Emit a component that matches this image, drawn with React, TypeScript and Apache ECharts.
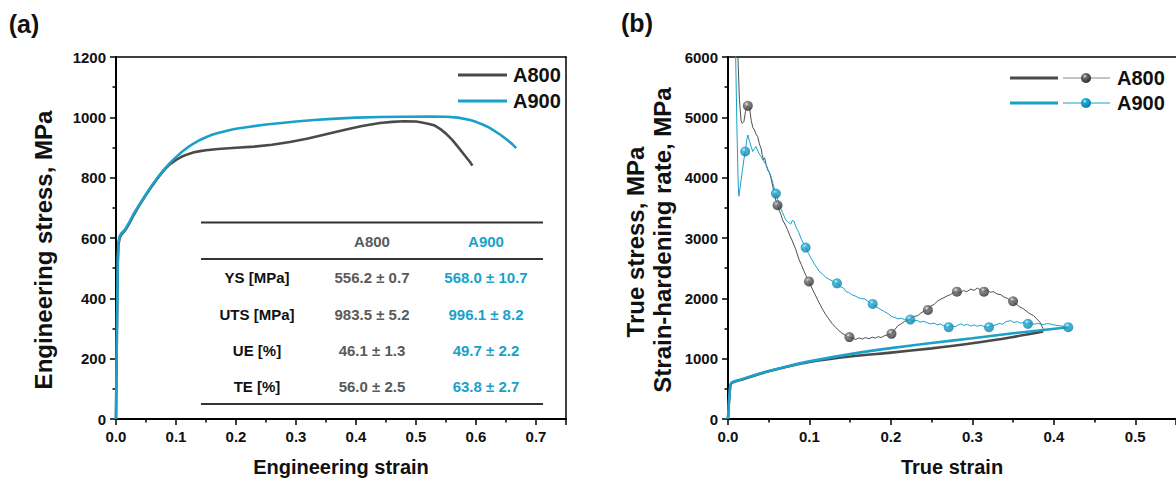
import React, { useEffect, useRef } from 'react';
import * as echarts from 'echarts';

// ---------- data ----------
const seriesNames = ['A800', 'A900'];

// (a) engineering stress-strain [strain, MPa]
const engA800: number[][] = [
  [0, 0], [0.001, 200], [0.002, 380], [0.003, 520], [0.004, 575], [0.006, 600], [0.009, 612],
  [0.015, 625], [0.022, 648], [0.03, 678], [0.04, 712], [0.05, 743], [0.06, 772], [0.07, 800],
  [0.08, 825], [0.09, 845], [0.10, 859], [0.11, 870], [0.12, 878], [0.13, 884], [0.14, 888],
  [0.15, 891], [0.17, 895], [0.2, 899], [0.23, 903], [0.26, 909], [0.29, 918], [0.32, 930],
  [0.35, 944], [0.38, 958], [0.41, 971], [0.44, 981], [0.46, 985], [0.48, 987], [0.50, 986],
  [0.51, 983], [0.52, 979], [0.53, 974], [0.54, 962], [0.55, 946], [0.56, 926], [0.57, 902],
  [0.58, 877], [0.59, 852], [0.594, 840],
];
const engA900: number[][] = [
  [0, 0], [0.001, 200], [0.002, 380], [0.003, 530], [0.004, 585], [0.006, 605], [0.009, 616],
  [0.015, 628], [0.022, 652], [0.03, 682], [0.04, 714], [0.05, 745], [0.06, 775], [0.07, 802],
  [0.08, 827], [0.09, 849], [0.10, 868], [0.11, 886], [0.12, 901], [0.13, 914], [0.14, 925],
  [0.15, 934], [0.16, 942], [0.17, 948], [0.18, 953], [0.19, 958], [0.2, 962], [0.22, 968],
  [0.25, 976], [0.28, 982], [0.3, 986], [0.33, 991], [0.36, 995], [0.4, 999], [0.44, 1001],
  [0.48, 1002], [0.52, 1003], [0.55, 1002], [0.57, 999], [0.59, 991], [0.60, 985], [0.61, 977],
  [0.62, 968], [0.63, 956], [0.64, 943], [0.65, 928], [0.66, 912], [0.667, 898],
];

// (b) true stress [true strain, MPa]
const trueA800: number[][] = [
  [0, 0], [0.001, 250], [0.002, 430], [0.003, 560], [0.005, 600], [0.008, 618], [0.015, 645],
  [0.03, 710], [0.05, 790], [0.075, 875], [0.1, 945], [0.15, 1035], [0.2, 1100], [0.25, 1170],
  [0.3, 1255], [0.35, 1360], [0.387, 1450],
];
const trueA900: number[][] = [
  [0, 0], [0.001, 250], [0.002, 430], [0.003, 570], [0.005, 610], [0.008, 625], [0.015, 650],
  [0.03, 715], [0.05, 795], [0.075, 880], [0.1, 955], [0.15, 1075], [0.2, 1175], [0.25, 1260],
  [0.3, 1338], [0.35, 1420], [0.418, 1522],
];

// (b) strain-hardening rate [true strain, MPa]
const hardA800: number[][] = [
  [0.0100, 7000], [0.0122, 6000], [0.0140, 5300], [0.0160, 4950], [0.0175, 4900], [0.0195, 4930],
  [0.0215, 5100], [0.0243, 5190], [0.0265, 5150], [0.0285, 4950], [0.0305, 4830], [0.0325, 4790],
  [0.0345, 4720], [0.0365, 4680], [0.0385, 4560], [0.0405, 4490], [0.0420, 4380], [0.0435, 4300],
  [0.0450, 4330], [0.0467, 4220], [0.0490, 4120], [0.0510, 4080], [0.0528, 3990], [0.0550, 3850],
  [0.0570, 3720], [0.0590, 3610], [0.0608, 3543], [0.0630, 3450], [0.0650, 3390], [0.0670, 3300],
  [0.0690, 3250], [0.0710, 3200], [0.0730, 3140], [0.0760, 3040], [0.0790, 2950], [0.0832, 2810],
  [0.0870, 2650], [0.0900, 2560], [0.0930, 2460], [0.0960, 2370], [0.0994, 2281], [0.1030, 2170],
  [0.1070, 2060], [0.1116, 1935], [0.1160, 1820], [0.1200, 1730], [0.1237, 1660], [0.1280, 1580],
  [0.1320, 1520], [0.1360, 1467], [0.1400, 1420], [0.1450, 1380], [0.1490, 1358], [0.1530, 1340],
  [0.1570, 1320], [0.1610, 1345], [0.1650, 1325], [0.1690, 1350], [0.1730, 1330], [0.1770, 1355],
  [0.1810, 1340], [0.1845, 1365], [0.1880, 1350], [0.1920, 1380], [0.1960, 1395], [0.2007, 1412],
  [0.2040, 1470], [0.2088, 1549], [0.2130, 1580], [0.2170, 1620], [0.2210, 1631], [0.2250, 1680],
  [0.2290, 1700], [0.2330, 1714], [0.2370, 1760], [0.2410, 1790], [0.2454, 1808], [0.2490, 1870],
  [0.2530, 1900], [0.2570, 1950], [0.2616, 1989], [0.2650, 2010], [0.2690, 2040], [0.2730, 2060],
  [0.2770, 2095], [0.2810, 2110], [0.2850, 2090], [0.2890, 2130], [0.2930, 2110], [0.2980, 2154],
  [0.3020, 2130], [0.3060, 2170], [0.3100, 2140], [0.3143, 2110], [0.3180, 2140], [0.3220, 2100],
  [0.3260, 2110], [0.3305, 2071], [0.3350, 2060], [0.3390, 2020], [0.3430, 2000], [0.3470, 1960],
  [0.3500, 1951], [0.3540, 1900], [0.3580, 1860], [0.3630, 1824], [0.3670, 1780], [0.3710, 1740],
  [0.3750, 1714], [0.3790, 1660], [0.3830, 1605], [0.3870, 1495],
];
const hardA900: number[][] = [
  [0.0075, 7000], [0.0094, 6000], [0.0110, 4800], [0.0125, 3900], [0.0134, 3692], [0.0150, 3850],
  [0.0175, 4100], [0.0195, 4300], [0.0211, 4433], [0.0228, 4600], [0.0243, 4708], [0.0265, 4600],
  [0.0284, 4516], [0.0304, 4433], [0.0325, 4480], [0.0345, 4516], [0.0370, 4430], [0.0390, 4380],
  [0.0406, 4351], [0.0430, 4290], [0.0450, 4250], [0.0467, 4214], [0.0490, 4140], [0.0510, 4080],
  [0.0528, 4021], [0.0550, 3910], [0.0570, 3820], [0.0588, 3736], [0.0610, 3640], [0.0630, 3560],
  [0.0650, 3480], [0.0670, 3418], [0.0690, 3360], [0.0710, 3300], [0.0730, 3270], [0.0750, 3253],
  [0.0770, 3230], [0.0790, 3290], [0.0811, 3280], [0.0830, 3200], [0.0850, 3140], [0.0870, 3088],
  [0.0900, 2980], [0.0930, 2900], [0.0953, 2841], [0.0990, 2740], [0.1030, 2640], [0.1075, 2538],
  [0.1120, 2450], [0.1160, 2400], [0.1200, 2350], [0.1237, 2319], [0.1290, 2280], [0.1338, 2248],
  [0.1380, 2190], [0.1420, 2170], [0.1450, 2110], [0.1480, 2100], [0.1520, 2060], [0.1560, 2040],
  [0.1600, 2010], [0.1640, 1995], [0.1680, 1989], [0.1720, 1950], [0.1776, 1907], [0.1810, 1870],
  [0.1845, 1840], [0.1880, 1810], [0.1920, 1780], [0.1970, 1742], [0.2010, 1700], [0.2050, 1680],
  [0.2090, 1660], [0.2130, 1670], [0.2170, 1645], [0.2200, 1660], [0.2238, 1648], [0.2280, 1620],
  [0.2320, 1635], [0.2360, 1605], [0.2400, 1620], [0.2450, 1593], [0.2490, 1575], [0.2530, 1590],
  [0.2570, 1560], [0.2610, 1575], [0.2650, 1545], [0.2709, 1522], [0.2750, 1545], [0.2790, 1530],
  [0.2830, 1560], [0.2860, 1577], [0.2900, 1550], [0.2940, 1570], [0.2980, 1540], [0.3020, 1560],
  [0.3060, 1535], [0.3100, 1555], [0.3150, 1530], [0.3204, 1522], [0.3250, 1550], [0.3290, 1560],
  [0.3330, 1585], [0.3370, 1570], [0.3410, 1610], [0.3470, 1631], [0.3510, 1600], [0.3550, 1615],
  [0.3590, 1590], [0.3630, 1600], [0.3682, 1577], [0.3720, 1590], [0.3760, 1570], [0.3800, 1585],
  [0.3830, 1577], [0.3870, 1565], [0.3910, 1580], [0.3950, 1577], [0.4000, 1560], [0.4050, 1550],
  [0.4100, 1540], [0.4177, 1522],
];

// (b) sphere markers on the hardening curves
const markA800: number[][] = [
  [0.0243, 5191], [0.0608, 3543], [0.0994, 2281], [0.149, 1358], [0.2007, 1412],
  [0.2454, 1808], [0.281, 2110], [0.3143, 2110], [0.35, 1951],
];
const markA900: number[][] = [
  [0.0211, 4433], [0.0588, 3736], [0.0953, 2841], [0.1338, 2248], [0.1776, 1907],
  [0.2238, 1648], [0.2709, 1522], [0.3204, 1522], [0.3682, 1577], [0.4177, 1522],
];

// (a) inset table
const tableRows = ['YS [MPa]', 'UTS [MPa]', 'UE [%]', 'TE [%]'];
const tableA800 = ['556.2 ± 0.7', '983.5 ± 5.2', '46.1 ± 1.3', '56.0 ± 2.5'];
const tableA900 = ['568.0 ± 10.7', '996.1 ± 8.2', '49.7 ± 2.2', '63.8 ± 2.7'];

// ---------- styles ----------
const GREY = '#4a4a4a';
const GREY_THIN = '#4f4f4f';
const BLUE = '#1aa1c9';
const FONT = '"Liberation Sans", Arial, Helvetica, sans-serif';

const sphere = (light: string, mid: string, dark: string) =>
  new echarts.graphic.RadialGradient(0.38, 0.32, 0.7, [
    { offset: 0, color: light },
    { offset: 0.3, color: mid },
    { offset: 1, color: dark },
  ]);

function buildOption() {
  const tickLabel = { fontSize: 15, fontWeight: 'bold', color: '#111', fontFamily: FONT, margin: 10 };
  const axisLine = { show: true, lineStyle: { color: '#000', width: 2 } };
  const axisTick = { show: true, length: 6, lineStyle: { color: '#000', width: 1.5 } };
  const minorTick = { show: true, splitNumber: 2, length: 3.5, lineStyle: { color: '#000', width: 1.5 } };
  const nameStyle = { fontSize: 20, fontWeight: 'bold', color: '#111', fontFamily: FONT };
  const frame = (gridIndex: number, position: string) => ({
    type: 'value', gridIndex, position,
    axisLine: { show: true, onZero: false, lineStyle: { color: '#000', width: 1.5 } },
    axisTick: { show: false }, axisLabel: { show: false }, splitLine: { show: false },
    min: 0, max: 1,
  });

  const graphic: any[] = [];
  const txt = (x: number, y: number, text: string, size: number, color = '#111', align = 'center', rotation = 0) => ({
    type: 'text', x, y, rotation, silent: true,
    style: { text, fill: color, fontSize: size, fontWeight: 'bold', fontFamily: FONT, align, verticalAlign: 'middle' },
  });
  // panel labels
  graphic.push(txt(24, 24, '(a)', 25));
  graphic.push(txt(637, 23, '(b)', 25));
  // y titles
  graphic.push(txt(43, 250, 'Engineering stress, MPa', 24, '#111', 'center', Math.PI / 2));
  graphic.push(txt(635, 242, 'True stress, MPa', 24, '#111', 'center', Math.PI / 2));
  graphic.push(txt(662, 240, 'Strain-hardening rate, MPa', 24, '#111', 'center', Math.PI / 2));

  const sphA800 = () => sphere('#e0e0e0', '#6a6a6a', '#2a2a2a');
  const sphA900 = () => sphere('#c4f1ff', '#1ea6d0', '#0a7aa0');

  // legend (a)
  const legA = [75, 101];
  [GREY, BLUE].forEach((c, i) => {
    graphic.push({ type: 'line', silent: true, shape: { x1: 458, y1: legA[i], x2: 507, y2: legA[i] }, style: { stroke: c, lineWidth: 3 } });
    graphic.push(txt(513, legA[i], seriesNames[i], 20, '#111', 'left'));
  });
  // legend (b)
  const legB = [78, 103];
  const legSph = [sphA800(), sphA900()];
  const legThin = ['#888888', BLUE];
  [GREY, BLUE].forEach((c, i) => {
    graphic.push({ type: 'line', silent: true, shape: { x1: 1010, y1: legB[i], x2: 1058, y2: legB[i] }, style: { stroke: c, lineWidth: 3 } });
    graphic.push({ type: 'line', silent: true, shape: { x1: 1063, y1: legB[i], x2: 1110, y2: legB[i] }, style: { stroke: legThin[i], lineWidth: 1 } });
    graphic.push({ type: 'circle', silent: true, shape: { cx: 1086, cy: legB[i], r: 5 }, style: { fill: legSph[i] } });
    graphic.push(txt(1117, legB[i], seriesNames[i], 20, '#111', 'left'));
  });

  // inset table (a)
  [222.5, 259, 404].forEach((y) => {
    graphic.push({ type: 'line', silent: true, shape: { x1: 201, y1: y, x2: 543, y2: y }, style: { stroke: '#333', lineWidth: 1.8 } });
  });
  graphic.push(txt(372, 241, seriesNames[0], 15, '#5a5a5a'));
  graphic.push(txt(486, 241, seriesNames[1], 15, BLUE));
  const rowY = [277.5, 314, 350, 386];
  tableRows.forEach((r, i) => {
    graphic.push(txt(257, rowY[i], r, 15, '#111'));
    graphic.push(txt(372, rowY[i], tableA800[i], 15, '#5a5a5a'));
    graphic.push(txt(486, rowY[i], tableA900[i], 15, BLUE));
  });

  const fmt1 = (v: number) => v.toFixed(1);
  const fmt0 = (v: number) => String(Math.round(v));

  return {
    animation: false,
    backgroundColor: '#ffffff',
    grid: [
      { left: 116, top: 57, width: 450, height: 364 },
      { left: 728, top: 57, width: 452, height: 364 },
    ],
    xAxis: [
      {
        type: 'value', gridIndex: 0, min: 0, max: 0.75, interval: 0.1,
        name: 'Engineering strain', nameLocation: 'middle', nameGap: 38, nameTextStyle: nameStyle,
        axisLine, axisTick, minorTick, splitLine: { show: false }, minorSplitLine: { show: false },
        axisLabel: { ...tickLabel, formatter: fmt1, showMaxLabel: false },
      },
      {
        type: 'value', gridIndex: 1, min: 0, max: 0.55, interval: 0.1,
        name: 'True strain', nameLocation: 'middle', nameGap: 38, nameTextStyle: nameStyle,
        axisLine, axisTick, minorTick, splitLine: { show: false }, minorSplitLine: { show: false },
        axisLabel: { ...tickLabel, formatter: fmt1, showMaxLabel: false },
      },
      frame(0, 'top'),
      frame(1, 'top'),
    ],
    yAxis: [
      {
        type: 'value', gridIndex: 0, min: 0, max: 1200, interval: 200,
        axisLine, axisTick, minorTick, splitLine: { show: false }, minorSplitLine: { show: false },
        axisLabel: { ...tickLabel, formatter: fmt0 },
      },
      {
        type: 'value', gridIndex: 1, min: 0, max: 6000, interval: 1000,
        axisLine, axisTick, minorTick, splitLine: { show: false }, minorSplitLine: { show: false },
        axisLabel: { ...tickLabel, formatter: fmt0 },
      },
      frame(0, 'right'),
    ],
    graphic,
    series: [
      {
        name: 'A800', type: 'line', xAxisIndex: 0, yAxisIndex: 0, data: engA800, showSymbol: false, symbol: 'none',
        smooth: false, lineStyle: { color: GREY, width: 2.6, join: 'round' }, z: 3,
      },
      {
        name: 'A900', type: 'line', xAxisIndex: 0, yAxisIndex: 0, data: engA900, showSymbol: false, symbol: 'none',
        smooth: false, lineStyle: { color: BLUE, width: 2.6, join: 'round' }, z: 4,
      },
      {
        name: 'A800 hardening', type: 'line', xAxisIndex: 1, yAxisIndex: 1, data: hardA800, showSymbol: false, symbol: 'none',
        lineStyle: { color: GREY_THIN, width: 1 }, z: 2,
      },
      {
        name: 'A900 hardening', type: 'line', xAxisIndex: 1, yAxisIndex: 1, data: hardA900, showSymbol: false, symbol: 'none',
        lineStyle: { color: BLUE, width: 1 }, z: 2,
      },
      {
        name: 'A800 true', type: 'line', xAxisIndex: 1, yAxisIndex: 1, data: trueA800, showSymbol: false, symbol: 'none',
        smooth: 0.25, lineStyle: { color: GREY, width: 2.6 }, z: 3,
      },
      {
        name: 'A900 true', type: 'line', xAxisIndex: 1, yAxisIndex: 1, data: trueA900, showSymbol: false, symbol: 'none',
        smooth: 0.25, lineStyle: { color: BLUE, width: 2.6 }, z: 4,
      },
      {
        name: 'A800 markers', type: 'scatter', xAxisIndex: 1, yAxisIndex: 1, data: markA800, symbolSize: 10,
        itemStyle: { color: sphA800() }, z: 5,
      },
      {
        name: 'A900 markers', type: 'scatter', xAxisIndex: 1, yAxisIndex: 1, data: markA900, symbolSize: 10,
        itemStyle: { color: sphA900() }, z: 5,
      },
    ],
  };
}

export default function App() {
  const ref = useRef<HTMLDivElement>(null);
  useEffect(() => {
    if (!ref.current) return;
    const chart = echarts.init(ref.current, null, { renderer: 'svg' });
    chart.setOption(buildOption() as any);
    return () => chart.dispose();
  }, []);
  return (
    <div style={{ position: 'absolute', left: 0, top: 0, width: 1176, height: 482, overflow: 'hidden', background: '#fff' }}>
      <div ref={ref} style={{ width: 1176, height: 482 }} />
    </div>
  );
}
